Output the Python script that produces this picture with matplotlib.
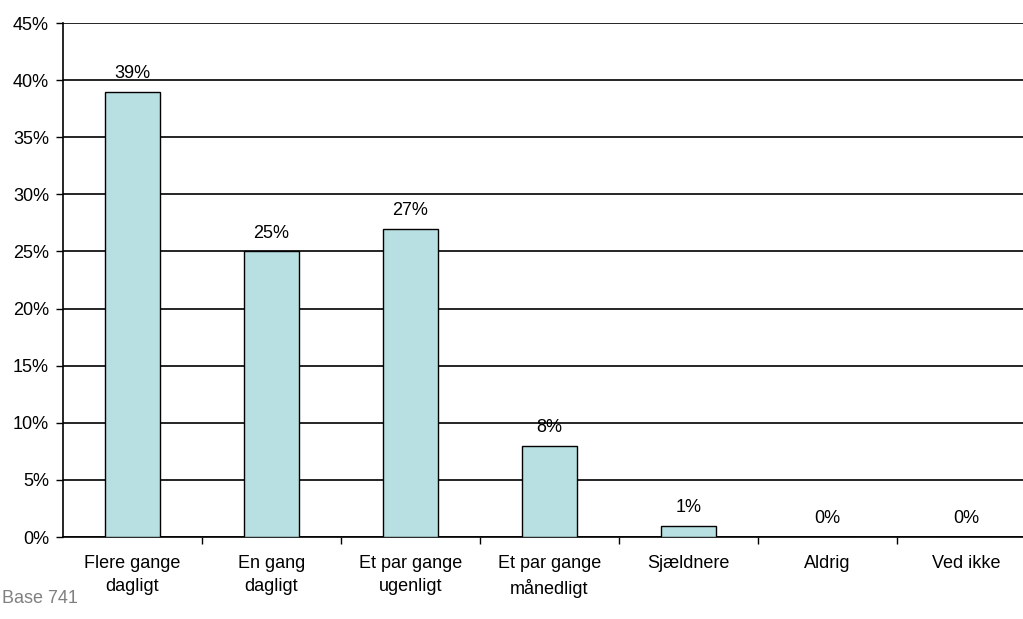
import matplotlib
matplotlib.use("Agg")
import matplotlib.pyplot as plt
from matplotlib.ticker import MultipleLocator, FuncFormatter

categories = ["Flere gange\ndagligt", "En gang\ndagligt", "Et par gange\nugenligt",
              "Et par gange\nmånedligt", "Sjældnere", "Aldrig", "Ved ikke"]
values = [39, 25, 27, 8, 1, 0, 0]
base_text = "Base 741"

plt.rcParams['font.family'] = ['Liberation Sans', 'DejaVu Sans']
FS = 13

fig = plt.figure(figsize=(10.23, 6.19), dpi=100)
# axes extends slightly past the right edge of the figure, as in the reference
ax = fig.add_axes([63 / 1023, 82 / 619, (1036 - 63) / 1023, (537 - 23) / 619])

x = list(range(len(categories)))
ax.bar(x, values, width=0.40, color="#B8DFE1", edgecolor="black", linewidth=1.0, zorder=3)
for xi, v in zip(x, values):
    ax.annotate(f"{v}%", (xi, v), xytext=(0, 7), textcoords="offset points",
                ha="center", va="bottom", fontsize=FS)

ax.set_xlim(-0.5, len(categories) - 0.5)
ax.set_ylim(0, 45)
ax.yaxis.set_major_locator(MultipleLocator(5))
ax.yaxis.set_major_formatter(FuncFormatter(lambda v, p: f"{int(v)}%"))
ax.grid(axis="y", color="black", linewidth=1.2, zorder=0)
ax.set_axisbelow(True)

ax.set_xticks(x)
ax.set_xticklabels(categories, fontsize=FS, linespacing=1.45)
ax.tick_params(axis="x", which="major", length=0, pad=13)
ax.set_xticks([i + 0.5 for i in x[:-1]], minor=True)
ax.tick_params(axis="x", which="minor", length=5, width=1, direction="out")
ax.tick_params(axis="y", length=5, width=1, labelsize=FS, direction="out", pad=5)

for s in ["top", "right"]:
    ax.spines[s].set_visible(False)
ax.spines["left"].set_linewidth(1.2)
ax.spines["bottom"].set_linewidth(1.2)

fig.text(0.002, 0.033, base_text, color="#808080", fontsize=FS, ha="left", va="center")

fig.savefig("out.png", dpi=100)
